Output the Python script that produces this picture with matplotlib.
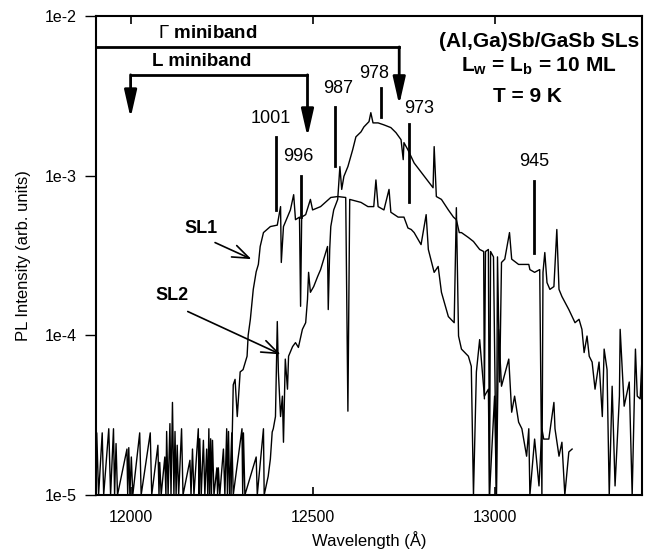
import matplotlib.pyplot as plt
from matplotlib.ticker import NullLocator

plt.rcParams['font.family'] = 'Liberation Sans'
plt.rcParams['mathtext.fontset'] = 'custom'
plt.rcParams['mathtext.rm'] = 'Liberation Sans'
plt.rcParams['mathtext.bf'] = 'Liberation Sans:bold'

# SL1: plateau-like spectrum (wavelength in Angstrom, PL intensity)
sl1_wl = [12276, 12282, 12287, 12293, 12301, 12309, 12320, 12323, 12329, 12337,
          12345, 12351, 12356, 12365, 12384, 12403, 12412, 12414, 12420, 12439,
          12448, 12453, 12464, 12467, 12470, 12481, 12494, 12500, 12522, 12550,
          12569, 12591, 12597, 12602, 12633, 12652, 12668, 12674, 12680, 12696,
          12710, 12715, 12735, 12751, 12762, 12771, 12779, 12798, 12812, 12818,
          12834, 12845, 12854, 12873, 12889, 12895, 12901, 12909, 12928, 12936,
          12942, 12950, 12959, 12972, 12983, 12986, 13000, 13005, 13011, 13019,
          13039, 13047, 13055, 13066, 13075, 13088, 13094, 13097, 13110, 13122,
          13130, 13135, 13149, 13163, 13166, 13177, 13185, 13193, 13204, 13213]
sl1_int = [1.0e-5, 4.9e-5, 5.3e-5, 3.1e-5, 5.9e-5, 6.1e-5, 7.4e-5, 1.0e-4, 1.26e-4, 1.94e-4,
           2.5e-4, 2.78e-4, 3.6e-4, 4.4e-4, 4.8e-4, 4.9e-4, 6.4e-4, 2.86e-4, 4.8e-4, 6.1e-4,
           7.6e-4, 5.3e-4, 5.5e-4, 1.52e-4, 5.5e-4, 5.7e-4, 7.1e-4, 6.1e-4, 6.4e-4, 7.3e-4,
           7.4e-4, 7.3e-4, 3.35e-5, 7.1e-4, 6.8e-4, 6.4e-4, 6.4e-4, 9.4e-4, 6.4e-4, 6.1e-4,
           8.2e-4, 5.9e-4, 5.5e-4, 5.5e-4, 4.7e-4, 4.6e-4, 4.4e-4, 3.7e-4, 5.7e-4, 3.45e-4,
           2.48e-4, 2.7e-4, 1.86e-4, 1.31e-4, 1.2e-4, 6.3e-4, 9.9e-5, 8.2e-5, 7.4e-5, 6.4e-5,
           1.0e-5, 5.9e-5, 9.4e-5, 4.16e-5, 4.6e-5, 1.0e-5, 4.16e-5, 1.0e-5, 1.09e-4, 4.8e-5,
           7.1e-5, 3.3e-5, 4.16e-5, 2.86e-5, 2.6e-5, 1.75e-5, 2.6e-5, 1.0e-5, 2.24e-5, 1.14e-5,
           2.6e-5, 2.24e-5, 2.24e-5, 3.8e-5, 2.6e-5, 1.75e-5, 2.14e-5, 1.0e-5, 1.86e-5, 1.94e-5]

# SL2: peaked spectrum, with the noise floor on the short-wavelength side
sl2_wl = [11900, 11903, 11905, 11907, 11912, 11922, 11926, 11940, 11945, 11953,
          11956, 11960, 11964, 11990, 11992, 11995, 11998, 12002, 12006, 12025,
          12029, 12054, 12058, 12075, 12078, 12080, 12084, 12094, 12097, 12099,
          12103, 12108, 12111, 12115, 12119, 12122, 12125, 12128, 12132, 12140,
          12144, 12163, 12166, 12170, 12174, 12186, 12188, 12190, 12194, 12200,
          12204, 12209, 12212, 12215, 12217, 12220, 12222, 12225, 12229, 12237,
          12239, 12241, 12245, 12255, 12259, 12264, 12266, 12269, 12272, 12278,
          12282, 12306, 12308, 12310, 12314, 12345, 12348, 12365, 12367,
          12378, 12384, 12389, 12392, 12398, 12403, 12406, 12412, 12417, 12420,
          12425, 12431, 12434, 12445, 12453, 12461, 12472, 12481, 12486, 12489,
          12494, 12503, 12514, 12522, 12536, 12541, 12543, 12547, 12550, 12558,
          12569, 12572, 12575, 12580, 12586, 12597, 12610, 12619, 12633, 12641,
          12655, 12660, 12666, 12680, 12696, 12715, 12729, 12743, 12749, 12751,
          12762, 12779, 12807, 12831, 12834, 12840, 12854, 12873, 12887, 12895,
          12903, 12909, 12928, 12942, 12959, 12970, 12972, 12975, 12983, 12986,
          12989, 12997, 13005, 13008, 13014, 13019, 13028, 13041, 13047, 13066,
          13094, 13097, 13110, 13124, 13130, 13133, 13138, 13144, 13152, 13163,
          13171, 13177, 13185, 13204, 13221, 13232, 13240, 13246, 13254, 13260,
          13268, 13276, 13287, 13296, 13301, 13309, 13315, 13323, 13331, 13343,
          13345, 13356, 13370, 13378, 13387, 13392, 13400, 13406, 13411]
sl2_int = [1e-5, 2.2e-5, 1e-5, 2.45e-5, 1e-5, 2.45e-5, 1e-5, 2.6e-5, 1e-5, 2.6e-5,
           1e-5, 2.1e-5, 1e-5, 1.94e-5, 1e-5, 1.98e-5, 1e-5, 1.73e-5, 1e-5, 2.45e-5,
           1e-5, 2.45e-5, 1e-5, 2.05e-5, 1e-5, 1.6e-5, 1e-5, 1.73e-5, 1e-5, 2.5e-5,
           1e-5, 2.8e-5, 1e-5, 3.8e-5, 1e-5, 2.5e-5, 1e-5, 2.05e-5, 1e-5, 2.6e-5,
           1e-5, 1.65e-5, 1e-5, 1.94e-5, 1e-5, 2.6e-5, 1e-5, 2.25e-5, 1e-5, 2.2e-5,
           1e-5, 1.94e-5, 1e-5, 2.6e-5, 1e-5, 2.25e-5, 1e-5, 2.2e-5, 1e-5, 1.48e-5,
           1e-5, 1.48e-5, 1e-5, 1.94e-5, 1e-5, 2.6e-5, 1e-5, 2.5e-5, 1e-5, 2.45e-5,
           1e-5, 2.6e-5, 1e-5, 2.45e-5, 1e-5, 1.73e-5, 1e-5, 2.6e-5, 1e-5,
           1.31e-5, 1.68e-5, 2.48e-5, 2.6e-5, 3.1e-5, 1.22e-4, 5.9e-5, 3.1e-5, 4.16e-5, 2.14e-5,
           7.1e-5, 4.6e-5, 7.4e-5, 8.5e-5, 9.0e-5, 8.4e-5, 1.09e-4, 1.2e-4, 1.68e-4, 2.48e-4,
           1.86e-4, 2.02e-4, 2.34e-4, 2.58e-4, 3.3e-4, 3.6e-4, 1.45e-4, 3.45e-4, 4.8e-4, 6.1e-4,
           7.1e-4, 9.0e-4, 1.14e-3, 8.2e-4, 9.9e-4, 1.14e-3, 1.45e-3, 1.75e-3, 1.88e-3, 2.02e-3,
           2.18e-3, 2.48e-3, 2.14e-3, 2.14e-3, 2.08e-3, 2.0e-3, 1.86e-3, 1.68e-3, 1.26e-3, 1.61e-3,
           1.45e-3, 1.2e-3, 9.9e-4, 8.4e-4, 1.52e-3, 7.4e-4, 7.1e-4, 6.1e-4, 5.5e-4, 5.3e-4,
           4.4e-4, 4.4e-4, 4.1e-4, 3.87e-4, 3.45e-4, 3.35e-4, 4.0e-5, 3.35e-4, 3.45e-4, 1e-5,
           3.35e-4, 3.1e-4, 1e-5, 3.1e-4, 5.1e-5, 2.86e-4, 3.0e-4, 4.4e-4, 3.0e-4, 2.78e-4,
           2.78e-4, 2.58e-4, 2.48e-4, 2.58e-4, 1e-5, 2.48e-4, 3.3e-4, 2.14e-4, 1.94e-4, 2.02e-4,
           4.6e-4, 1.94e-4, 1.75e-4, 1.45e-4, 1.2e-4, 1.26e-4, 1.09e-4, 7.8e-5, 9.9e-5, 7.4e-5,
           6.8e-5, 4.6e-5, 6.8e-5, 3.1e-5, 8.2e-5, 6.1e-5, 1e-5, 4.8e-5, 1.14e-5, 4.16e-5,
           1.09e-4, 3.6e-5, 5.1e-5, 1e-5, 8.2e-5, 4.16e-5, 4.0e-5, 8.2e-5, 1.09e-4]

# marked transitions
peak_labels = ['1001', '996', '987', '978', '973', '945']
peak_wl = [12400, 12467, 12561, 12688, 12765, 13108]
peak_top = [1.75e-3, 1.0e-3, 2.7e-3, 3.55e-3, 2.11e-3, 9.2e-4]
peak_bot = [6.1e-4, 5.5e-4, 1.15e-3, 2.34e-3, 6.8e-4, 3.3e-4]
label_x = [12384, 12461, 12569, 12668, 12793, 13110]
label_y = [2.02e-3, 1.17e-3, 3.1e-3, 3.87e-3, 2.34e-3, 1.09e-3]

fig = plt.figure(figsize=(6.65, 5.55), dpi=100)
ax = fig.add_axes([0.1444, 0.1081, 0.821, 0.8631])

ax.plot(sl1_wl, sl1_int, color='k', lw=1.0)
ax.plot(sl2_wl, sl2_int, color='k', lw=1.0)

for w, t, b in zip(peak_wl, peak_top, peak_bot):
    ax.plot([w, w], [b, t], color='k', lw=2)
for lab, x, y in zip(peak_labels, label_x, label_y):
    ax.text(x, y, lab, ha='center', va='bottom', fontsize=13)

arrow = dict(arrowstyle='-|>,head_length=1.1,head_width=0.25', color='k', lw=2,
             mutation_scale=15, shrinkA=0, shrinkB=0)

# Gamma miniband bracket
ax.plot([11905, 12738], [6.4e-3, 6.4e-3], color='k', lw=2)
ax.annotate('', xy=(12738, 2.78e-3), xytext=(12738, 6.4e-3), arrowprops=arrow)
ax.text(12213, 7.8e-3, r'$\Gamma$ miniband', ha='center', va='center',
        fontsize=13.5, fontweight='bold')

# L miniband bracket
ax.plot([12000, 12486], [4.28e-3, 4.28e-3], color='k', lw=2)
ax.annotate('', xy=(12000, 2.3e-3), xytext=(12000, 4.28e-3), arrowprops=arrow)
ax.annotate('', xy=(12486, 1.75e-3), xytext=(12486, 4.28e-3), arrowprops=arrow)
ax.text(12196, 5.16e-3, 'L miniband', ha='center', va='center',
        fontsize=13.5, fontweight='bold')

# sample info
ax.text(13122, 6.88e-3, '(Al,Ga)Sb/GaSb SLs', ha='center', va='center',
        fontsize=15, fontweight='bold')
ax.text(13122, 4.87e-3, r'L$_\mathbf{w}$ = L$_\mathbf{b}$ = 10 ML', ha='center',
        va='center', fontsize=15, fontweight='bold')
ax.text(13091, 3.12e-3, 'T = 9 K', ha='center', va='center',
        fontsize=15, fontweight='bold')

# curve labels
thin = dict(arrowstyle='->,head_length=0.8,head_width=0.3', color='k',
            lw=1.2, mutation_scale=15, shrinkA=0, shrinkB=0)
ax.text(12193, 4.67e-4, 'SL1', ha='center', va='center', fontsize=13, fontweight='bold')
ax.annotate('', xy=(12332, 3.0e-4), xytext=(12232, 3.81e-4), arrowprops=thin)
ax.text(12113, 1.78e-4, 'SL2', ha='center', va='center', fontsize=13, fontweight='bold')
ax.annotate('', xy=(12412, 7.6e-5), xytext=(12157, 1.41e-4), arrowprops=thin)

ax.set_yscale('log')
ax.set_xlim(11905, 13405)
ax.set_ylim(1e-5, 1e-2)
ax.set_xticks([12000, 12500, 13000])
ax.set_yticks([1e-5, 1e-4, 1e-3, 1e-2], ['1e-5', '1e-4', '1e-3', '1e-2'])
ax.yaxis.set_minor_locator(NullLocator())
ax.tick_params(axis='x', direction='in', top=True, length=6, width=1.2, pad=11, labelsize=11.5)
ax.tick_params(axis='y', direction='out', length=8, width=1.0, pad=6, labelsize=11.5)
for s in ax.spines.values():
    s.set_linewidth(1.5)

ax.set_xlabel('Wavelength (Å)', fontsize=12, labelpad=4)
ax.set_ylabel('PL Intensity (arb. units)', fontsize=12, labelpad=10)

fig.savefig('out.png', dpi=100)
